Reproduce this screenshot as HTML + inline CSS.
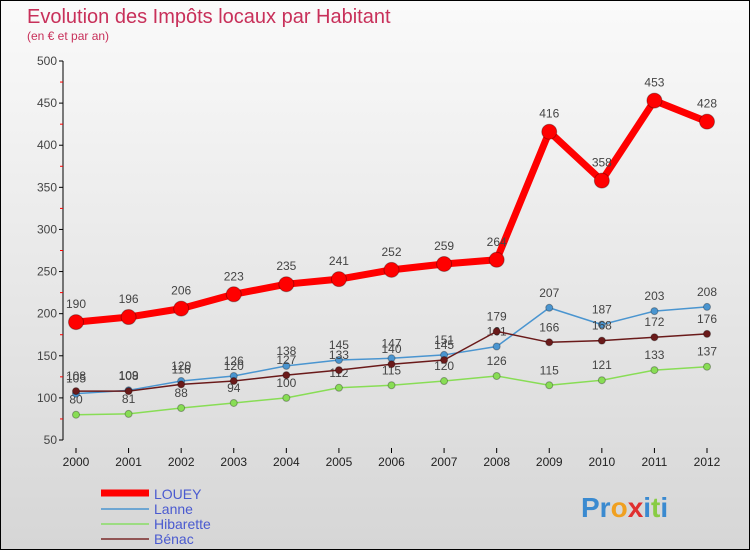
<!DOCTYPE html>
<html><head><meta charset="utf-8"><style>
body{margin:0}
#c{width:748px;height:548px;border:1px solid #000;background:linear-gradient(#fafafa,#d6d6d6);position:relative;font-family:"Liberation Sans",sans-serif;overflow:hidden}
</style></head><body>
<div id="c">
<svg id="s" width="748" height="548">
<text x="26" y="22" font-size="20" fill="#c8305a">Evolution des Impôts locaux par Habitant</text>
<text x="26" y="39" font-size="12" fill="#c8305a">(en € et par an)</text>
<g id="ax"></g><g id="ser"></g>
<g>
<line x1="100" y1="492" x2="148" y2="492" stroke="#f00" stroke-width="7"/>
<text x="153" y="498" font-size="14" fill="#4a5ad0">LOUEY</text>
<line x1="100" y1="508" x2="148" y2="508" stroke="#4a95d0" stroke-width="1.5"/>
<text x="153" y="513" font-size="14" fill="#4a5ad0">Lanne</text>
<line x1="100" y1="523" x2="148" y2="523" stroke="#88dd66" stroke-width="1.5"/>
<text x="153" y="528" font-size="14" fill="#4a5ad0">Hibarette</text>
<line x1="100" y1="538" x2="148" y2="538" stroke="#7a2a2a" stroke-width="1.5"/>
<text x="153" y="543" font-size="14" fill="#4a5ad0">Bénac</text>
</g>
<text x="580" y="516" font-size="28" font-weight="bold" fill="#3a8ad0">Pr<tspan fill="#f0a020">o</tspan><tspan fill="#e03030">x</tspan>i<tspan fill="#88cc44">t</tspan>i</text>
</svg></div>
<script>
const years=[2000,2001,2002,2003,2004,2005,2006,2007,2008,2009,2010,2011,2012];
const louey=[190,196,206,223,235,241,252,259,264,416,358,453,428];
const lanne=[105,109,120,126,138,145,147,151,161,207,187,203,208];
const hibarette=[80,81,88,94,100,112,115,120,126,115,121,133,137];
const benac=[108,108,116,120,127,133,140,145,179,166,168,172,176];
const yTicks=[50,100,150,200,250,300,350,400,450,500];
const NS="http://www.w3.org/2000/svg";
const X=i=>75+i*(706-75)/12, Y=v=>439-(v-50)*(439-60)/450;
function mk(t,a,p){const e=document.createElementNS(NS,t);for(const k in a)e.setAttribute(k,a[k]);p.appendChild(e);return e;}
const ax=document.getElementById('ax');
const yl=mk('line',{x1:62,y1:60,x2:62,y2:439,stroke:'#000'},ax);


yTicks.forEach(v=>{
 mk('line',{x1:58,y1:Y(v),x2:62,y2:Y(v),stroke:'#000'},ax);
 if(v<500)mk('line',{x1:59,y1:Y(v+25),x2:62,y2:Y(v+25),stroke:'#f00'},ax);
 const t=mk('text',{x:56,y:Y(v)+4,'font-size':12,fill:'#444','text-anchor':'end'},ax);t.textContent=v;
 
 
});
years.forEach((y,i)=>{
 mk('line',{x1:X(i),y1:447,x2:X(i),y2:452,stroke:'#000'},ax);
 const t=mk('text',{x:X(i),y:465,'font-size':12,fill:'#222','text-anchor':'middle'},ax);t.textContent=y;
 
 
});
const ser=document.getElementById('ser');
function draw(vals,name,col,w,r){
 const g=mk('g',{},ser);
 
 
 const p=mk('polyline',{points:vals.map((v,i)=>X(i)+','+Y(v)).join(' '),fill:'none',stroke:col,'stroke-width':w,'stroke-linejoin':'round'},g);
 
 
 vals.forEach((v,i)=>{
  const c=mk('circle',{cx:X(i),cy:Y(v),r:r,fill:col,stroke:'rgba(0,0,0,0.3)'},g);
  
  
  const t=mk('text',{x:X(i),y:Y(v)-11-(r>5?3:0),'font-size':12,fill:'#444','text-anchor':'middle'},g);t.textContent=v;
  
  
 });
}
draw(hibarette,'hibarette','#88dd55',1.5,3.5);
draw(lanne,'lanne','#4a95d0',1.5,3.5);
draw(benac,'benac','#6a1a1a',1.5,3.5);
draw(louey,'louey','#ff0000',7,7.5);
</script>
</body></html>
